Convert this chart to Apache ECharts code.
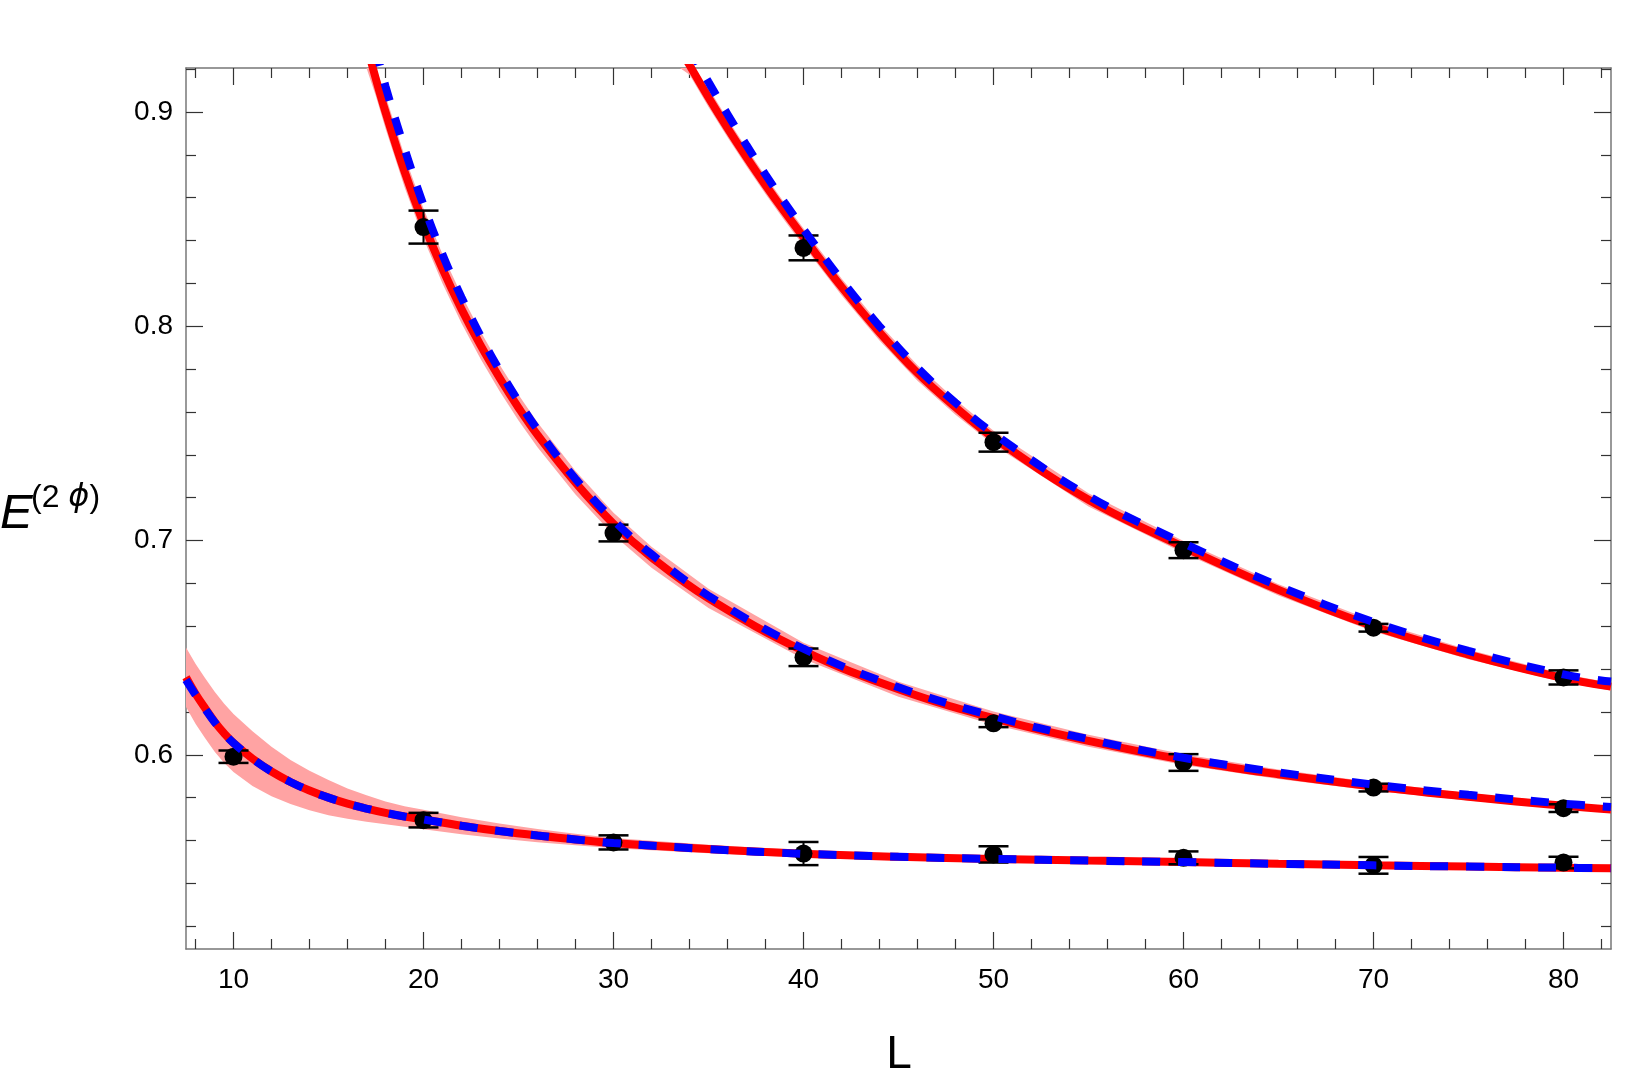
<!DOCTYPE html>
<html lang="en">
<head>
<meta charset="utf-8">
<title>E(2 phi) vs L</title>
<script src="https://cdn.jsdelivr.net/npm/echarts@6/dist/echarts.min.js"></script>
<style>
  html, body { margin: 0; padding: 0; background: #fff; }
  #chart { width: 1644px; height: 1081px; }
</style>
</head>
<body>
<div id="chart"></div>
<script>
// ---- ticks ----
var xMajor = [10, 20, 30, 40, 50, 60, 70, 80];
var xMinor = [8, 12, 14, 16, 18, 22, 24, 26, 28, 32, 34, 36, 38, 42, 44, 46, 48,
              52, 54, 56, 58, 62, 64, 66, 68, 72, 74, 76, 78, 82];
var yMajor = [0.6, 0.7, 0.8, 0.9];
var yMinor = [0.52, 0.54, 0.56, 0.58, 0.62, 0.64, 0.66, 0.68, 0.72, 0.74, 0.76, 0.78,
              0.82, 0.84, 0.86, 0.88, 0.92];

// ---- data points with error bars ----
var lowL = [10, 20, 30, 40, 50, 60, 70, 80];
var lowE = [0.5991, 0.5695, 0.5591, 0.5539, 0.5535, 0.5519, 0.5484, 0.5497];
var lowErr = [0.0029, 0.0034, 0.0033, 0.0054, 0.0038, 0.0030, 0.0039, 0.0027];

var midL = [20, 30, 40, 50, 60, 70, 80];
var midE = [0.8463, 0.7035, 0.6455, 0.6147, 0.5964, 0.5847, 0.5751];
var midErr = [0.0077, 0.0039, 0.0041, 0.0018, 0.0039, 0.0018, 0.0018];

var upL = [40, 50, 60, 70, 80];
var upE = [0.8366, 0.7459, 0.6955, 0.6593, 0.6361];
var upErr = [0.0058, 0.0044, 0.0037, 0.0018, 0.0033];

// ---- fitted curves (red solid, pink band half-width) and blue dashed ----
var lowFitL = [7.5, 8, 8.5, 9, 9.5, 10, 11, 12, 13, 14, 15, 16, 17, 18, 19, 20, 22, 24, 26, 28,
               30, 35, 40, 45, 50, 55, 60, 65, 70, 75, 80, 82.5];
var lowRed = [0.6362, 0.6285, 0.6218, 0.6155, 0.6101, 0.6055, 0.5982, 0.5922, 0.5873, 0.5833,
              0.5800, 0.5772, 0.5749, 0.5729, 0.5712, 0.5698, 0.5669, 0.5644, 0.5623, 0.5605,
              0.5588, 0.5560, 0.5538, 0.5524, 0.5514, 0.5506, 0.5499, 0.5491, 0.5484, 0.5478,
              0.5473, 0.5470];
var lowHalf = [0.0139, 0.0140, 0.0140, 0.0140, 0.0138, 0.0135, 0.0128, 0.0115, 0.0103, 0.0092,
               0.0082, 0.0071, 0.0062, 0.0053, 0.0048, 0.0045, 0.0040, 0.0035, 0.0031, 0.0027,
               0.0024, 0.0020, 0.0017, 0.0015, 0.0014, 0.0013, 0.0012, 0.0012, 0.0012, 0.0011,
               0.0011, 0.0011];
var lowBlue = [0.6350, 0.6280, 0.6215, 0.6153, 0.6100, 0.6055, 0.5982, 0.5922, 0.5873, 0.5833,
               0.5800, 0.5772, 0.5749, 0.5729, 0.5712, 0.5698, 0.5669, 0.5644, 0.5623, 0.5605,
               0.5588, 0.5560, 0.5538, 0.5524, 0.5514, 0.5506, 0.5499, 0.5491, 0.5484, 0.5478,
               0.5473, 0.5470];

var midFitL = [17, 17.5, 18, 19, 20, 21, 22, 23, 24, 25, 26, 28, 30, 32, 35, 40, 45, 50, 55, 60,
               65, 70, 75, 80, 82.5];
var midRed = [0.9318, 0.9152, 0.9000, 0.8723, 0.8480, 0.8268, 0.8080, 0.7912, 0.7760, 0.7620,
              0.7493, 0.7270, 0.7078, 0.6922, 0.6730, 0.6485, 0.6306, 0.6171, 0.6065, 0.5977,
              0.5909, 0.5852, 0.5804, 0.5762, 0.5745];
var midHalf = [0.0080, 0.0080, 0.0077, 0.0073, 0.0070, 0.0068, 0.0066, 0.0064, 0.0062, 0.0060,
               0.0058, 0.0055, 0.0052, 0.0049, 0.0045, 0.0038, 0.0035, 0.0031, 0.0028, 0.0025,
               0.0022, 0.0020, 0.0017, 0.0015, 0.0014];
var midBlue = [0.9460, 0.9290, 0.9120, 0.8830, 0.8565, 0.8335, 0.8135, 0.7955, 0.7795, 0.7650,
               0.7518, 0.7288, 0.7095, 0.6936, 0.6742, 0.6495, 0.6315, 0.6180, 0.6073, 0.5986,
               0.5918, 0.5861, 0.5813, 0.5772, 0.5756];

var upFitL = [33.5, 34, 35, 36, 37, 38, 39, 40, 42, 44, 46, 48, 50, 55, 60, 65, 70, 75, 80, 82.5];
var upRed = [0.9300, 0.9219, 0.9068, 0.8925, 0.8789, 0.8659, 0.8535, 0.8416, 0.8184, 0.7972,
             0.7782, 0.7622, 0.7480, 0.7190, 0.6970, 0.6770, 0.6600, 0.6468, 0.6358, 0.6318];
var upHalf = [0.0045, 0.0045, 0.0044, 0.0043, 0.0042, 0.0041, 0.0041, 0.0040, 0.0039, 0.0038,
              0.0036, 0.0035, 0.0033, 0.0031, 0.0028, 0.0026, 0.0024, 0.0022, 0.0019, 0.0018];
var upBlueL = [34, 34.5, 35, 36, 37, 38, 39, 40, 42, 44, 46, 48, 50, 55, 60, 65, 70, 75, 80, 82.5];
var upBlue = [0.9300, 0.9218, 0.9140, 0.8990, 0.8845, 0.8708, 0.8578, 0.8453, 0.8215, 0.8000,
              0.7806, 0.7643, 0.7500, 0.7208, 0.6988, 0.6788, 0.6620, 0.6485, 0.6375, 0.6342];

var xMin = 7.5, xMax = 82.5, yMin = 0.50935, yMax = 0.92056;

var frameColor = '#777';
var tickColor = '#333';
var fontFam = '"Liberation Sans", Arial, sans-serif';

function pairs(xs, ys) {
    return xs.map(function (x, i) { return [x, ys[i]]; });
}

// pink band as one polygon (upper edge forward, lower edge back)
function band(xs, mid, half) {
    return {
        type: 'custom', clip: true, silent: true, z: 1,
        data: xs.map(function (x, i) { return [x, mid[i] - half[i], mid[i] + half[i]]; }),
        encode: { x: 0, y: [1, 2] },
        renderItem: function (params, api) {
            if (params.dataIndex !== 0) return;
            var pts = [];
            for (var i = 0; i < xs.length; i++) pts.push(api.coord([xs[i], mid[i] + half[i]]));
            for (var j = xs.length - 1; j >= 0; j--) pts.push(api.coord([xs[j], mid[j] - half[j]]));
            var cs = params.coordSys;
            if (echarts.graphic && echarts.graphic.clipPointsByRect) {
                pts = echarts.graphic.clipPointsByRect(pts, { x: cs.x, y: cs.y, width: cs.width, height: cs.height });
            }
            return { type: 'polygon', shape: { points: pts }, style: { fill: '#ffa3a3' } };
        }
    };
}

function redLine(xs, ys) {
    return {
        type: 'line', data: pairs(xs, ys), symbol: 'none', smooth: 0.4,
        lineStyle: { color: '#ff0000', width: 8 }, z: 2
    };
}

function blueLine(xs, ys) {
    return {
        type: 'line', data: pairs(xs, ys), symbol: 'none', smooth: 0.4,
        lineStyle: { color: '#0000ff', width: 8, type: [18, 18], cap: 'butt' }, z: 5
    };
}

var ptL = lowL.concat(midL, upL);
var ptE = lowE.concat(midE, upE);
var ptErr = lowErr.concat(midErr, upErr);
var errData = ptL.map(function (x, i) { return [x, ptE[i], ptErr[i]]; });

function renderErr(params, api) {
    var x = api.value(0), y = api.value(1), e = api.value(2);
    var top = api.coord([x, y + e]);
    var bot = api.coord([x, y - e]);
    var hw = 15;
    var st = { stroke: '#000', lineWidth: 2.5 };
    return {
        type: 'group',
        children: [
            { type: 'line', shape: { x1: top[0], y1: top[1], x2: bot[0], y2: bot[1] }, style: { stroke: '#000', lineWidth: 2 } },
            { type: 'line', shape: { x1: top[0] - hw, y1: top[1], x2: top[0] + hw, y2: top[1] }, style: st },
            { type: 'line', shape: { x1: bot[0] - hw, y1: bot[1], x2: bot[0] + hw, y2: bot[1] }, style: st }
        ]
    };
}

function xAx(pos, values, len, withLine, withLabel) {
    return {
        type: 'value', position: pos, min: xMin, max: xMax,
        axisLine: { show: withLine, onZero: false, lineStyle: { color: frameColor, width: 1.5 } },
        axisTick: { show: true, inside: true, length: len, customValues: values,
                    lineStyle: { color: tickColor, width: 1.2 } },
        axisLabel: { show: withLabel, customValues: values, margin: 17, fontSize: 28,
                     color: '#000', fontFamily: fontFam },
        splitLine: { show: false }
    };
}

function yAx(pos, values, len, withLine, withLabel) {
    return {
        type: 'value', position: pos, min: yMin, max: yMax,
        axisLine: { show: withLine, onZero: false, lineStyle: { color: frameColor, width: 1.5 } },
        axisTick: { show: true, inside: true, length: len, customValues: values,
                    lineStyle: { color: tickColor, width: 1.2 } },
        axisLabel: { show: withLabel, customValues: values, margin: 13, fontSize: 28,
                     color: '#000', fontFamily: fontFam,
                     formatter: function (v) { return v.toFixed(1); } },
        splitLine: { show: false }
    };
}

var series = [
    band(lowFitL, lowRed, lowHalf),
    band(midFitL, midRed, midHalf),
    band(upFitL, upRed, upHalf),
    redLine(lowFitL, lowRed), redLine(midFitL, midRed), redLine(upFitL, upRed),
    {
        type: 'custom', data: errData, renderItem: renderErr, z: 3,
        encode: { x: 0, y: 1 }
    }, {
        type: 'scatter', data: pairs(ptL, ptE), symbolSize: 18,
        itemStyle: { color: '#000', opacity: 1 }, z: 4
    },
    blueLine(lowFitL, lowBlue), blueLine(midFitL, midBlue), blueLine(upBlueL, upBlue)
];

var myChart = echarts.init(document.getElementById('chart'), null, { renderer: 'canvas' });
var option = {
    backgroundColor: '#fff',
    animation: false,
    grid: { left: 186, top: 68, width: 1425, height: 881, outerBoundsMode: 'none' },
    xAxis: [
        xAx('bottom', xMajor, 17, true, true),
        xAx('bottom', xMinor, 10, false, false),
        xAx('top', xMajor, 17, true, false),
        xAx('top', xMinor, 10, false, false)
    ],
    yAxis: [
        yAx('left', yMajor, 17, true, true),
        yAx('left', yMinor, 10, false, false),
        yAx('right', yMajor, 17, true, false),
        yAx('right', yMinor, 10, false, false)
    ],
    graphic: [
        { type: 'text', x: 0, y: 514,
          style: { text: 'E', font: 'italic 49px ' + fontFam, fill: '#000', verticalAlign: 'middle' } },
        { type: 'text', x: 31, y: 498,
          style: { text: '{a|(2 }{b|ϕ}{a|)}', fill: '#000', verticalAlign: 'middle',
                   rich: { a: { fontSize: 32, fontFamily: fontFam, fill: '#000' },
                           b: { fontSize: 32, fontStyle: 'italic', fontFamily: '"DejaVu Sans", ' + fontFam, fill: '#000' } } } },
        { type: 'text', x: 899, y: 1055,
          style: { text: 'L', font: '46px ' + fontFam, fill: '#000', align: 'center', verticalAlign: 'middle' } }
    ],
    series: series
};
myChart.setOption(option);
</script>
</body>
</html>
